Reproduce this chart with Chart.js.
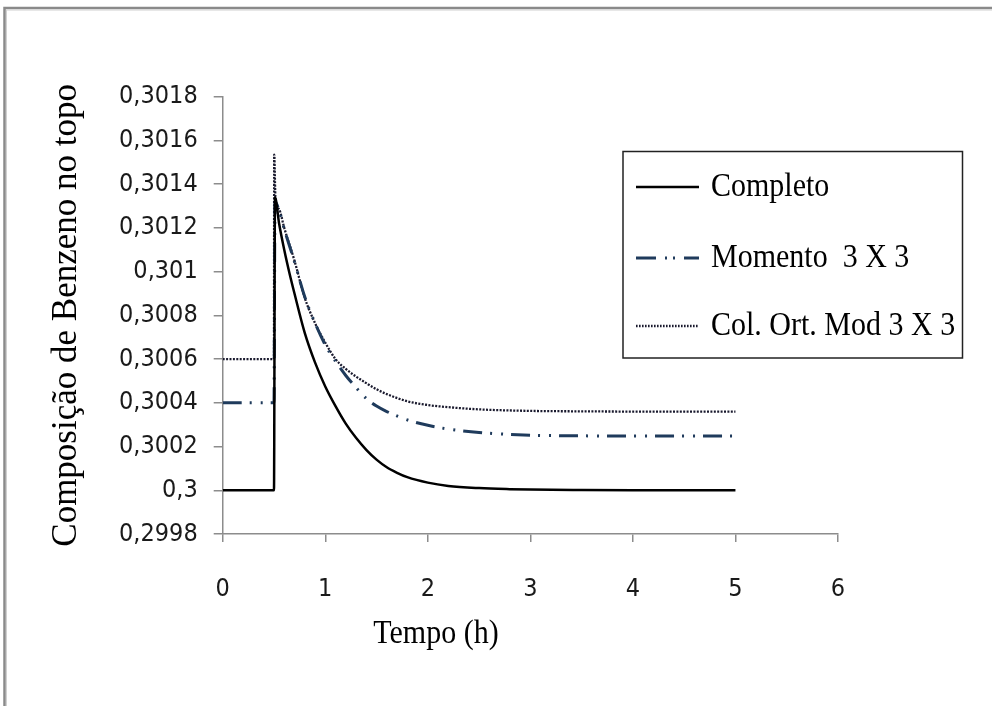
<!DOCTYPE html>
<html><head><meta charset="utf-8">
<style>html,body{margin:0;padding:0;background:#fff;}canvas{display:block}</style>
<script src="https://cdn.jsdelivr.net/npm/chart.js@4.4.1/dist/chart.umd.min.js"></script>
</head><body>
<canvas id="c" width="992" height="706"></canvas>
<script>
const seriesNames = ['Completo', 'Momento  3 X 3', 'Col. Ort. Mod 3 X 3'];
const xTitle = 'Tempo (h)';
const yTitle = 'Composição de Benzeno no topo';
const xTicks = [0, 1, 2, 3, 4, 5, 6];
const yTicks = [0.2998, 0.3, 0.3002, 0.3004, 0.3006, 0.3008, 0.301, 0.3012, 0.3014, 0.3016, 0.3018];

const tCompleto = [0, 0.5, 0.51, 0.55, 0.6, 0.65, 0.7, 0.8, 0.9, 1.0, 1.1, 1.2, 1.3, 1.4, 1.5, 1.6, 1.7, 1.8, 2.0, 2.2, 2.5, 2.8, 3.0, 3.5, 4.0, 5.0];
const vCompleto = [0.3, 0.3, 0.30134, 0.30122, 0.3011, 0.300995, 0.3009, 0.30072, 0.300585, 0.300475, 0.300385, 0.300305, 0.30024, 0.300185, 0.30014, 0.300105, 0.30008, 0.30006, 0.300035, 0.30002, 0.30001, 0.300005, 0.300003, 0.300001, 0.3, 0.3];

const tMomento = [0, 0.5, 0.51, 0.55, 0.6, 0.7, 0.8, 0.9, 1.0, 1.1, 1.2, 1.3, 1.4, 1.5, 1.6, 1.8, 2.0, 2.2, 2.5, 3.0, 3.5, 4.0, 5.0];
const vMomento = [0.3004, 0.3004, 0.30132, 0.30128, 0.301195, 0.301045, 0.300885, 0.300765, 0.300665, 0.30059, 0.300525, 0.30047, 0.30042, 0.300385, 0.30036, 0.300322, 0.300297, 0.30028, 0.300264, 0.300252, 0.300249, 0.300248, 0.300248];

const tColOrt = [0, 0.5, 0.502, 0.515, 0.55, 0.6, 0.7, 0.8, 0.9, 1.0, 1.1, 1.2, 1.3, 1.4, 1.5, 1.6, 1.8, 2.0, 2.2, 2.5, 3.0, 3.5, 4.0, 5.0];
const vColOrt = [0.3006, 0.3006, 0.301535, 0.30133, 0.301285, 0.3012, 0.30105, 0.30088, 0.300765, 0.300675, 0.3006, 0.300555, 0.30052, 0.30049, 0.300462, 0.30044, 0.300407, 0.30039, 0.30038, 0.30037, 0.300363, 0.300361, 0.30036, 0.30036];

const toPts = (t, v) => t.map((x, i) => ({x: x, y: v[i]}));
const AXIS = '#8c8c8c';
const TICKFONT = "'Liberation Sans Narrow', 'DejaVu Sans Condensed', sans-serif";
const SERIF = "'Liberation Serif', 'Times New Roman', serif";

const frame = {
  id: 'frame',
  beforeDraw(chart) {
    const ctx = chart.ctx;
    ctx.save();
    ctx.fillStyle = '#fff';
    ctx.fillRect(0, 0, chart.width, chart.height);
    ctx.strokeStyle = '#8a8a8a';
    ctx.lineWidth = 2.5;
    ctx.strokeRect(4.5, 8, 1100, 900);
    ctx.strokeStyle = '#d0d0d0';
    ctx.lineWidth = 1;
    ctx.strokeRect(6.5, 10, 1100, 900);
    ctx.restore();
  },
  afterDraw(chart) {
    const ctx = chart.ctx;
    ctx.save();
    ctx.fillStyle = '#000';
    ctx.font = '30px ' + SERIF;
    ctx.textAlign = 'center';
    ctx.textBaseline = 'alphabetic';
    ctx.save();
    ctx.translate(436, 643);
    ctx.scale(1, 1.12);
    ctx.fillText(xTitle, 0, 0);
    ctx.restore();
    ctx.strokeStyle = '#222';
    ctx.lineWidth = 1.5;
    ctx.strokeRect(623, 151.5, 339.5, 206.5);
    const rows = [187, 258, 326];
    chart.data.datasets.forEach((ds, i) => {
      const y = rows[i];
      ctx.save();
      ctx.strokeStyle = ds.borderColor;
      ctx.lineWidth = ds.borderWidth;
      ctx.setLineDash(ds.legendDash || ds.borderDash || []);
      ctx.beginPath();
      ctx.moveTo(636, y);
      ctx.lineTo(699, y);
      ctx.stroke();
      ctx.restore();
      ctx.save();
      ctx.fillStyle = '#000';
      ctx.font = '30px ' + SERIF;
      ctx.textAlign = 'left';
      ctx.textBaseline = 'middle';
      ctx.translate(711, y);
      ctx.scale(1, 1.12);
      ctx.fillText(ds.label, 0, 0);
      ctx.restore();
    });
    ctx.restore();
  }
};

new Chart(document.getElementById('c'), {
  type: 'line',
  data: {
    datasets: [
      {label: seriesNames[0], data: toPts(tCompleto, vCompleto), borderColor: '#000000', borderWidth: 2.5, borderDash: []},
      {label: seriesNames[1], data: toPts(tMomento, vMomento), borderColor: '#1f3b5c', borderWidth: 3, borderDash: [19, 8, 2, 9, 2, 8], legendDash: [20, 9, 2, 6, 2, 9]},
      {label: seriesNames[2], data: toPts(tColOrt, vColOrt), borderColor: '#1a1a2e', borderWidth: 2.3, borderDash: [2, 1.4], legendDash: [1.6, 1.4], legendWidth: 1.5}
    ]
  },
  options: {
    responsive: false,
    animation: false,
    devicePixelRatio: 1,
    layout: {padding: {left: 0, right: 154, top: 96.7, bottom: 0}},
    elements: {
      point: {radius: 0, hoverRadius: 0},
      line: {cubicInterpolationMode: 'monotone', borderCapStyle: 'butt', fill: false}
    },
    plugins: {legend: {display: false}, tooltip: {enabled: false}},
    scales: {
      x: {
        type: 'linear', min: 0, max: 6,
        afterFit(s) { s.height = 172; },
        afterBuildTicks(s) { s.ticks = xTicks.map(v => ({value: v})); },
        grid: {display: true, drawOnChartArea: false, drawTicks: true, tickLength: 8, color: AXIS, lineWidth: 1.5},
        border: {display: true, color: AXIS, width: 1.5},
        ticks: {color: '#1a1a1a', font: {family: TICKFONT, size: 25}, padding: 32, maxRotation: 0, callback: v => String(v)}
      },
      y: {
        type: 'linear', min: 0.2998, max: 0.3018,
        afterFit(s) { s.width = 222.7; },
        afterBuildTicks(s) { s.ticks = yTicks.map(v => ({value: v})); },
        grid: {display: true, drawOnChartArea: false, drawTicks: true, tickLength: 9, color: AXIS, lineWidth: 1.5},
        border: {display: true, color: AXIS, width: 1.5},
        ticks: {color: '#1a1a1a', font: {family: TICKFONT, size: 25}, padding: 16,
          callback: v => parseFloat(Number(v).toFixed(4)).toString().replace('.', ',')},
        title: {display: true, text: yTitle, color: '#000', font: {family: SERIF, size: 35}, padding: {top: 46, bottom: 0}}
      }
    }
  },
  plugins: [frame]
});
</script>
</body></html>
